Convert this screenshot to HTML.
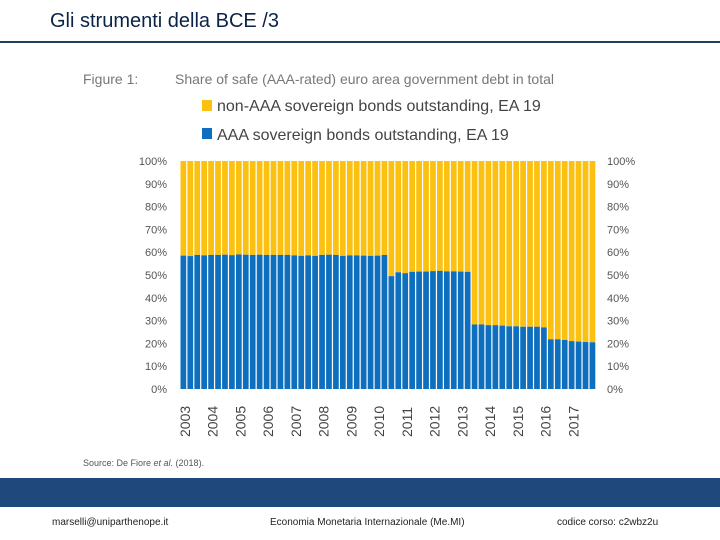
<!DOCTYPE html>
<html><head><meta charset="utf-8"><style>
body{margin:0;width:720px;height:540px;background:#fff;position:relative;overflow:hidden;font-family:"Liberation Sans",sans-serif}
.t{position:absolute}
</style></head><body>
<div class="t" style="left:50px;top:10px;font-size:20px;color:#0b2347;">Gli strumenti della BCE /3</div>
<div class="t" style="left:0;top:41px;width:720px;height:2px;background:#1f3f5f"></div>
<svg class="t" style="left:0;top:0" width="720" height="540">
<text x="83" y="84" font-size="14" fill="#777">Figure 1:</text>
<text x="175" y="84" font-size="14" fill="#777">Share of safe (AAA-rated) euro area government debt in total</text>
<rect x="202" y="100" width="10" height="11" fill="#fcc010"/>
<text x="217" y="111" font-size="16" fill="#444">non-AAA sovereign bonds outstanding, EA 19</text>
<rect x="202" y="128" width="10" height="11" fill="#0f6fbf"/>
<text x="217" y="140" font-size="16" fill="#444">AAA sovereign bonds outstanding, EA 19</text>
<g id="plot"></g>
<text x="83" y="466" font-size="9" fill="#555">Source: De Fiore <tspan font-style="italic">et al.</tspan> (2018).</text>
</svg>
<div class="t" style="left:0;top:478px;width:720px;height:29px;background:#1f497d"></div>
<div class="t" style="left:52px;top:517px;font-size:10px;color:#222">marselli@uniparthenope.it</div>
<div class="t" style="left:270px;top:517px;font-size:10px;color:#222">Economia Monetaria Internazionale (Me.MI)</div>
<div class="t" style="left:557px;top:517px;font-size:10px;color:#222">codice corso: c2wbz2u</div>
<script>
const years=["2003","2004","2005","2006","2007","2008","2009","2010","2011","2012","2013","2014","2015","2016","2017"];
const ticks=[0,10,20,30,40,50,60,70,80,90,100];
const aaaShare=[58.5,58.3,58.8,58.6,58.8,58.8,58.9,58.7,59.0,58.9,58.8,58.9,58.8,58.8,58.8,58.8,58.6,58.4,58.6,58.4,58.8,58.9,58.8,58.4,58.6,58.6,58.5,58.4,58.5,58.8,49.5,51.2,50.8,51.4,51.5,51.5,51.7,51.8,51.6,51.6,51.5,51.4,28.3,28.3,28.0,28.0,27.8,27.5,27.5,27.3,27.3,27.3,27.0,21.8,21.8,21.5,21.0,20.8,20.6,20.5];
const NS="http://www.w3.org/2000/svg";
const g=document.getElementById('plot');
const x0=180,x1=596,yb=389,yt=161;
const n=aaaShare.length,bw=(x1-x0)/n;
const yS=v=>yb-(yb-yt)*v/100;
const xS=i=>x0+i*bw;
function mk(t,a){const e=document.createElementNS(NS,t);for(const k in a)e.setAttribute(k,a[k]);g.appendChild(e);return e;}
ticks.forEach(t=>{
 let e=mk('text',{x:167,y:yS(t)+4,'font-size':11,fill:'#555','text-anchor':'end'});e.textContent=t+'%';
 
 
 e=mk('text',{x:607,y:yS(t)+4,'font-size':11,fill:'#555'});e.textContent=t+'%';
 
 
});
aaaShare.forEach((v,i)=>{
 let e=mk('rect',{x:xS(i)+0.5,y:yt,width:bw-1.2,height:yS(v)-yt,fill:'#fcc010'});
 
 
 e=mk('rect',{x:xS(i)+0.5,y:yS(v),width:bw-1.2,height:yb-yS(v),fill:'#0f6fbf'});
 
 
});
years.forEach((y,k)=>{
 const cx=xS(k*4)+10;
 const e=mk('text',{x:cx,y:437,'font-size':14,fill:'#444',transform:`rotate(-90 ${cx} 437)`});e.textContent=y;
 
 
});
</script>
</body></html>
